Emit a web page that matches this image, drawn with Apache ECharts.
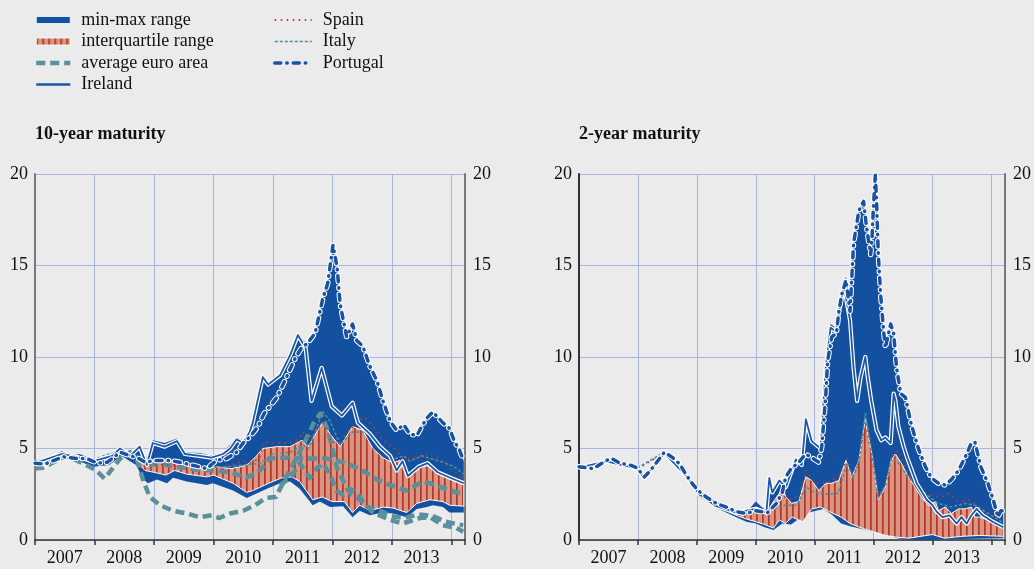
<!DOCTYPE html>
<html>
<head>
<meta charset="utf-8">
<script src="https://cdn.jsdelivr.net/npm/echarts@6/dist/echarts.min.js"></script>
<style>
html, body { margin: 0; padding: 0; background: #ebebeb; }
#main { width: 1034px; height: 569px; }
</style>
</head>
<body>
<div id="main"></div>
<script>
// ---- data: [year, yield %] ----
var years = ['2007', '2008', '2009', '2010', '2011', '2012', '2013'];

// 10-year maturity
var y10Max = [[2007.0,4.35],[2007.25,4.5],[2007.45,4.85],[2007.6,4.6],[2007.75,4.7],[2007.97,4.4],[2008.15,4.5],[2008.3,4.7],[2008.43,5.1],[2008.55,4.75],[2008.65,4.85],[2008.76,5.2],[2008.85,4.2],[2008.98,5.45],[2009.18,5.3],[2009.39,5.55],[2009.52,4.8],[2009.77,4.75],[2009.97,4.6],[2010.16,4.8],[2010.28,5.2],[2010.39,5.6],[2010.5,5.45],[2010.61,6.0],[2010.66,6.5],[2010.83,9.0],[2010.92,8.6],[2011.12,9.1],[2011.29,10.2],[2011.42,11.3],[2011.57,10.7],[2011.71,11.3],[2011.84,13.2],[2011.92,14.0],[2012.01,16.1],[2012.08,14.9],[2012.13,12.9],[2012.24,11.1],[2012.34,11.8],[2012.41,10.9],[2012.51,10.6],[2012.63,9.5],[2012.75,8.7],[2012.85,7.6],[2012.97,6.5],[2013.08,6.0],[2013.2,6.3],[2013.3,5.8],[2013.42,5.7],[2013.5,6.2],[2013.6,6.7],[2013.69,7.0],[2013.86,6.4],[2013.97,6.1],[2014.05,5.4],[2014.14,4.9],[2014.21,4.3]];
var y10Min = [[2007.0,4.0],[2007.45,4.55],[2007.75,4.3],[2007.97,4.0],[2008.25,4.1],[2008.45,4.6],[2008.7,4.1],[2008.82,3.3],[2008.9,3.1],[2009.05,3.3],[2009.22,3.1],[2009.32,3.4],[2009.55,3.2],[2009.89,3.0],[2009.99,3.1],[2010.33,2.7],[2010.56,2.3],[2010.66,2.45],[2010.9,2.8],[2011.12,3.1],[2011.29,3.2],[2011.45,2.8],[2011.67,1.9],[2011.79,2.1],[2011.96,1.8],[2012.18,1.85],[2012.34,1.25],[2012.46,1.6],[2012.63,1.35],[2012.85,1.5],[2013.02,1.45],[2013.25,1.25],[2013.42,1.7],[2013.59,1.8],[2013.69,1.9],[2013.86,1.8],[2013.97,1.5],[2014.21,1.5]];
var y10Q1 = [[2008.7,4.3],[2008.85,3.8],[2009.0,3.7],[2009.2,3.55],[2009.35,3.8],[2009.55,3.6],[2009.89,3.45],[2010.0,3.55],[2010.33,3.1],[2010.56,2.6],[2010.66,2.7],[2010.93,3.1],[2011.15,3.4],[2011.32,3.45],[2011.45,3.2],[2011.67,2.2],[2011.83,2.35],[2012.0,2.1],[2012.2,2.1],[2012.34,1.5],[2012.46,1.9],[2012.63,1.6],[2012.85,1.8],[2013.02,1.75],[2013.25,1.5],[2013.42,2.0],[2013.64,2.2],[2013.86,2.1],[2013.97,1.9],[2014.21,1.85]];
var y10Q3 = [[2008.7,4.35],[2008.85,4.3],[2009.0,4.4],[2009.25,4.4],[2009.4,4.2],[2009.6,4.0],[2009.85,3.9],[2010.05,4.0],[2010.3,3.9],[2010.45,4.0],[2010.56,4.1],[2010.7,4.5],[2010.83,5.0],[2011.07,5.1],[2011.29,5.1],[2011.49,5.45],[2011.59,5.1],[2011.84,6.45],[2011.96,5.8],[2012.13,5.1],[2012.34,6.2],[2012.51,6.0],[2012.68,5.0],[2012.85,4.5],[2013.02,4.2],[2013.13,4.35],[2013.25,3.5],[2013.42,3.95],[2013.59,4.05],[2013.81,3.7],[2013.97,3.4],[2014.21,3.1]];
var y10Avg = [[2008.75,4.6],[2008.9,4.1],[2009.1,4.15],[2009.4,4.0],[2009.7,3.85],[2010.0,3.8],[2010.3,3.7],[2010.55,3.4],[2010.75,3.7],[2010.95,4.45],[2011.25,4.5],[2011.55,4.45],[2011.9,4.45],[2012.25,4.2],[2012.5,3.8],[2012.75,3.3],[2012.97,3.0],[2013.25,2.7],[2013.52,3.2],[2013.74,3.0],[2013.97,2.7],[2014.21,2.5]];
var y10AvgLow = [[2007.0,3.9],[2007.13,3.95],[2007.37,4.35],[2007.53,4.6],[2007.7,4.35],[2007.92,4.0],[2008.03,3.8],[2008.17,3.35],[2008.3,3.9],[2008.43,4.45],[2008.6,4.8],[2008.72,4.35],[2008.82,3.25],[2008.93,2.35],[2009.1,1.9],[2009.32,1.6],[2009.55,1.45],[2009.77,1.25],[2009.97,1.35],[2010.1,1.2],[2010.28,1.45],[2010.5,1.6],[2010.7,1.9],[2010.88,2.3],[2011.05,2.35],[2011.2,3.3],[2011.4,4.5],[2011.55,5.45],[2011.7,6.5],[2011.8,6.9],[2011.9,6.2],[2011.98,5.3],[2012.07,4.0],[2012.2,3.1],[2012.3,2.55],[2012.42,2.3],[2012.54,2.0],[2012.68,1.5],[2012.97,1.1],[2013.18,0.9],[2013.47,1.2],[2013.64,1.25],[2013.86,0.8],[2014.09,0.65],[2014.2,0.45]];
var y10AvgMid = [[2011.12,3.0],[2011.29,3.4],[2011.45,4.2],[2011.62,3.4],[2011.73,3.9],[2011.84,4.2],[2011.96,3.6],[2012.07,2.7],[2012.18,2.45],[2012.29,2.8],[2012.41,2.6],[2012.58,1.8],[2012.8,1.6],[2013.0,1.3],[2013.2,1.2],[2013.45,1.4],[2013.7,1.3],[2013.9,1.0],[2014.2,0.8]];
var y10Ireland = [[2007.0,4.2],[2007.45,4.7],[2007.75,4.5],[2007.97,4.3],[2008.3,4.6],[2008.43,5.0],[2008.6,4.6],[2008.76,5.1],[2008.88,4.1],[2008.98,5.3],[2009.18,5.1],[2009.39,5.4],[2009.52,4.7],[2009.77,4.6],[2009.97,4.5],[2010.16,4.7],[2010.28,5.0],[2010.39,5.5],[2010.5,5.3],[2010.61,5.9],[2010.66,6.4],[2010.83,8.9],[2010.92,8.5],[2011.12,9.0],[2011.29,10.1],[2011.42,11.2],[2011.55,10.5],[2011.65,7.6],[2011.82,9.4],[2011.99,7.3],[2012.16,6.8],[2012.34,7.5],[2012.43,6.4],[2012.63,5.8],[2012.8,5.1],[2012.97,4.6],[2013.08,3.8],[2013.18,4.3],[2013.27,3.5],[2013.45,4.0],[2013.6,4.2],[2013.77,3.7],[2013.98,3.4],[2014.21,3.1]];
var y10Spain = [[2007.0,4.1],[2007.45,4.6],[2007.97,4.3],[2008.45,4.8],[2008.7,4.4],[2009.0,4.1],[2009.4,4.1],[2009.8,3.95],[2010.2,4.0],[2010.5,4.3],[2010.6,4.2],[2010.77,4.45],[2010.85,5.35],[2011.1,5.3],[2011.29,5.3],[2011.45,5.55],[2011.5,5.9],[2011.6,5.5],[2011.84,6.4],[2012.0,5.3],[2012.2,5.7],[2012.4,6.4],[2012.55,6.7],[2012.68,6.2],[2012.85,5.45],[2013.05,5.0],[2013.2,4.45],[2013.4,4.5],[2013.6,4.7],[2013.81,4.45],[2014.03,3.8],[2014.21,3.3]];
var y10Italy = [[2007.0,4.1],[2007.45,4.7],[2007.97,4.4],[2008.45,4.9],[2008.7,4.6],[2009.0,4.4],[2009.4,4.4],[2009.8,4.0],[2010.2,4.0],[2010.5,4.1],[2010.8,4.2],[2011.0,4.7],[2011.3,4.8],[2011.5,5.2],[2011.6,5.0],[2011.84,7.0],[2011.96,6.5],[2012.13,5.2],[2012.34,5.9],[2012.55,5.9],[2012.7,5.5],[2012.85,4.9],[2013.02,4.4],[2013.2,4.6],[2013.3,4.3],[2013.5,4.6],[2013.7,4.4],[2013.9,4.2],[2014.05,4.0],[2014.21,3.6]];
var y10Portugal = [[2007.0,4.2],[2007.17,4.15],[2007.47,4.55],[2007.7,4.45],[2007.87,4.45],[2008.05,4.2],[2008.22,4.25],[2008.43,4.8],[2008.6,4.6],[2008.72,4.5],[2008.85,4.25],[2009.02,4.35],[2009.27,4.35],[2009.43,4.25],[2009.89,3.9],[2010.05,4.35],[2010.22,4.45],[2010.39,4.8],[2010.5,5.3],[2010.63,5.7],[2010.75,6.2],[2010.85,6.9],[2011.07,7.8],[2011.2,8.7],[2011.37,9.9],[2011.5,10.6],[2011.57,10.7],[2011.71,11.3],[2011.84,13.2],[2011.92,14.0],[2012.01,16.1],[2012.08,14.9],[2012.13,12.9],[2012.24,11.1],[2012.34,11.8],[2012.41,10.9],[2012.51,10.6],[2012.63,9.5],[2012.75,8.7],[2012.85,7.6],[2012.97,6.5],[2013.08,6.0],[2013.2,6.3],[2013.3,5.8],[2013.42,5.7],[2013.5,6.2],[2013.6,6.7],[2013.69,7.0],[2013.86,6.4],[2013.97,6.1],[2014.05,5.4],[2014.14,4.9],[2014.21,4.3]];

// 2-year maturity
var y2Max = [[2008.7,4.15],[2008.82,3.6],[2008.93,3.1],[2009.04,2.7],[2009.16,2.4],[2009.33,2.05],[2009.5,1.85],[2009.67,1.6],[2009.84,1.5],[2010.0,2.1],[2010.1,1.8],[2010.18,1.6],[2010.23,3.45],[2010.28,2.7],[2010.4,3.3],[2010.51,3.2],[2010.68,4.45],[2010.78,4.2],[2010.85,6.7],[2010.95,5.45],[2011.1,5.1],[2011.19,9.8],[2011.27,11.8],[2011.36,11.6],[2011.44,13.1],[2011.53,14.4],[2011.58,13.4],[2011.66,16.2],[2011.75,18.0],[2011.83,18.5],[2011.88,17.1],[2011.95,15.6],[2011.97,16.3],[2012.0,18.4],[2012.03,20.0],[2012.05,18.5],[2012.08,15.6],[2012.12,13.4],[2012.17,11.4],[2012.2,10.5],[2012.29,11.8],[2012.34,11.3],[2012.39,9.4],[2012.46,8.0],[2012.54,7.8],[2012.64,6.3],[2012.76,5.0],[2012.88,4.0],[2012.98,3.4],[2013.1,3.1],[2013.22,3.0],[2013.32,3.3],[2013.44,3.8],[2013.55,4.5],[2013.66,5.3],[2013.72,5.35],[2013.82,4.0],[2013.94,3.1],[2014.03,2.2],[2014.11,1.25],[2014.16,1.6],[2014.2,1.6]];
var y2Min = [[2008.7,4.1],[2008.82,3.4],[2008.93,2.8],[2009.04,2.35],[2009.16,2.1],[2009.33,1.75],[2009.5,1.5],[2009.67,1.25],[2009.84,1.0],[2010.0,0.9],[2010.15,0.7],[2010.3,0.55],[2010.45,0.9],[2010.6,0.85],[2010.75,1.2],[2010.9,1.5],[2011.02,1.6],[2011.15,1.7],[2011.29,1.4],[2011.45,0.9],[2011.6,0.75],[2011.8,0.6],[2012.0,0.45],[2012.2,0.3],[2012.4,0.1],[2012.6,0.0],[2013.0,0.0],[2013.5,0.05],[2014.2,0.1]];
var y2Q1 = [[2008.7,4.15],[2008.82,3.45],[2008.93,2.9],[2009.04,2.45],[2009.16,2.2],[2009.33,1.85],[2009.5,1.6],[2009.67,1.35],[2009.84,1.15],[2010.0,1.0],[2010.15,0.85],[2010.3,0.65],[2010.4,1.1],[2010.5,0.9],[2010.62,1.25],[2010.8,1.0],[2010.95,1.7],[2011.1,1.8],[2011.25,1.55],[2011.45,1.25],[2011.6,0.9],[2011.8,0.65],[2012.0,0.45],[2012.2,0.25],[2012.4,0.15],[2012.6,0.1],[2013.0,0.3],[2013.2,0.1],[2013.5,0.2],[2013.8,0.25],[2014.2,0.2]];
var y2Q3 = [[2008.7,4.15],[2008.82,3.5],[2008.93,3.0],[2009.04,2.6],[2009.16,2.3],[2009.33,1.95],[2009.5,1.75],[2009.67,1.5],[2009.84,1.45],[2010.01,1.8],[2010.23,1.45],[2010.28,2.0],[2010.4,2.55],[2010.45,2.9],[2010.51,2.35],[2010.61,2.0],[2010.73,2.1],[2010.85,3.45],[2010.95,3.25],[2011.07,2.7],[2011.19,3.1],[2011.29,3.1],[2011.41,3.25],[2011.53,4.35],[2011.63,3.45],[2011.75,4.35],[2011.86,6.6],[2011.97,4.7],[2012.08,2.2],[2012.2,2.9],[2012.3,4.35],[2012.37,4.7],[2012.47,4.2],[2012.59,3.45],[2012.81,2.35],[2012.93,1.9],[2013.05,2.1],[2013.1,1.6],[2013.22,1.8],[2013.32,1.45],[2013.44,1.7],[2013.55,1.7],[2013.66,1.8],[2013.72,1.25],[2013.82,1.25],[2013.99,1.0],[2014.2,0.75]];
var y2Ireland = [[2007.0,3.95],[2007.47,4.3],[2007.98,3.9],[2008.11,3.4],[2008.45,4.75],[2008.82,3.5],[2009.04,2.5],[2009.33,1.85],[2009.67,1.5],[2010.0,1.7],[2010.18,1.5],[2010.23,3.4],[2010.28,2.6],[2010.4,3.25],[2010.51,2.9],[2010.68,4.4],[2010.78,4.1],[2010.85,6.6],[2010.95,5.4],[2011.1,5.0],[2011.19,9.5],[2011.27,11.6],[2011.36,11.4],[2011.44,13.0],[2011.5,13.8],[2011.55,12.9],[2011.6,12.0],[2011.66,9.4],[2011.72,7.6],[2011.78,8.9],[2011.86,10.0],[2011.9,8.9],[2011.96,7.6],[2012.05,6.0],[2012.13,5.45],[2012.2,5.6],[2012.29,5.3],[2012.34,8.0],[2012.37,7.6],[2012.42,6.2],[2012.51,5.1],[2012.57,4.5],[2012.73,3.1],[2012.9,2.2],[2013.0,1.9],[2013.07,1.55],[2013.17,1.25],[2013.29,1.35],[2013.41,0.9],[2013.49,1.25],[2013.58,0.9],[2013.66,1.35],[2013.75,1.7],[2013.85,1.35],[2014.02,1.0],[2014.2,0.7]];
var y2Spain = [[2007.0,3.95],[2007.5,4.3],[2008.0,3.9],[2008.45,4.75],[2008.82,3.5],[2009.04,2.55],[2009.5,1.7],[2009.84,1.4],[2010.1,1.6],[2010.3,1.9],[2010.45,2.4],[2010.6,2.2],[2010.75,2.5],[2010.85,3.8],[2011.0,3.1],[2011.2,3.1],[2011.4,3.45],[2011.55,4.4],[2011.65,3.5],[2011.75,4.3],[2011.86,6.5],[2011.97,4.6],[2012.08,2.3],[2012.2,3.0],[2012.32,4.7],[2012.42,4.9],[2012.54,4.0],[2012.76,2.7],[2012.98,2.45],[2013.15,2.35],[2013.27,2.55],[2013.44,2.1],[2013.61,2.2],[2013.78,1.8],[2013.94,1.5],[2014.2,1.1]];
var y2Italy = [[2007.0,3.95],[2007.5,4.35],[2008.0,3.95],[2008.45,4.8],[2008.82,3.55],[2009.04,2.6],[2009.5,1.75],[2009.84,1.45],[2010.1,1.55],[2010.3,1.7],[2010.5,1.9],[2010.7,1.9],[2010.85,2.9],[2011.0,2.6],[2011.2,2.5],[2011.4,2.55],[2011.55,4.2],[2011.65,3.4],[2011.75,4.3],[2011.86,6.9],[2011.97,4.8],[2012.08,2.3],[2012.2,3.0],[2012.3,4.45],[2012.4,4.3],[2012.54,3.65],[2012.8,2.7],[2013.1,2.0],[2013.32,1.8],[2013.55,2.0],[2013.72,1.9],[2013.94,1.45],[2014.2,0.95]];
var y2Portugal = [[2007.0,4.0],[2007.24,3.9],[2007.47,4.35],[2007.56,4.45],[2007.69,4.2],[2007.86,4.1],[2007.98,3.95],[2008.11,3.45],[2008.2,3.75],[2008.32,4.25],[2008.45,4.8],[2008.59,4.5],[2008.71,4.15],[2008.82,3.55],[2008.93,3.05],[2009.04,2.65],[2009.16,2.35],[2009.33,2.0],[2009.5,1.8],[2009.67,1.55],[2009.84,1.45],[2010.0,1.6],[2010.2,1.5],[2010.35,2.0],[2010.45,2.6],[2010.51,3.45],[2010.6,3.9],[2010.73,4.25],[2010.85,4.7],[2010.95,4.5],[2011.07,4.25],[2011.12,5.1],[2011.19,8.0],[2011.22,9.8],[2011.29,11.1],[2011.37,11.3],[2011.41,12.5],[2011.46,13.4],[2011.53,14.2],[2011.6,12.5],[2011.66,16.2],[2011.75,18.0],[2011.83,18.5],[2011.88,17.1],[2011.95,15.6],[2011.97,16.3],[2012.0,18.4],[2012.03,20.0],[2012.05,18.5],[2012.08,15.6],[2012.12,13.4],[2012.17,11.4],[2012.2,10.5],[2012.29,11.8],[2012.34,11.3],[2012.39,9.4],[2012.46,8.0],[2012.54,7.8],[2012.64,6.3],[2012.76,5.0],[2012.88,4.0],[2012.98,3.4],[2013.1,3.1],[2013.22,3.0],[2013.32,3.3],[2013.44,3.8],[2013.55,4.5],[2013.66,5.3],[2013.72,5.35],[2013.82,4.0],[2013.94,3.1],[2014.03,2.2],[2014.11,1.25],[2014.16,1.6],[2014.2,1.6]];

// ---- styling ----
var FONT = 'Liberation Serif';
var FS = 18;
var BLUE = '#1450a0';
var TEAL = '#5a8f9b';
var RED = '#c0392b';
var GRIDC = '#aab4e2';

var pat = document.createElement('canvas');
pat.width = 6; pat.height = 6;
var pctx = pat.getContext('2d');
pctx.fillStyle = '#d9957f';
pctx.fillRect(0, 0, 6, 6);
pctx.fillStyle = '#b0352c';
pctx.fillRect(0, 0, 1.7, 6);
var hatch = { image: pat, repeat: 'repeat' };

var avgStyle = { color: TEAL, width: 4.5, type: [9, 5] };
var spainStyle = { color: RED, width: 1.8, type: [1.5, 4.5] };
var italyStyle = { color: '#4e8d9c', width: 1.6, type: [3, 2] };
var irelandStyle = { color: '#1c57a8', width: 1.8, type: 'solid' };
var portugalStyle = { color: '#1a52a3', width: 3.5, type: [6, 6, 0.5, 6], cap: 'round' };

function band(name, xi, lower, upper, fill, stroke, z) {
    return {
        name: name, type: 'custom', xAxisIndex: xi, yAxisIndex: xi * 2,
        z: z, silent: true, clip: true,
        itemStyle: { color: name === 'min-max range' ? BLUE : '#d9957f' },
        data: [[2010, 0]],
        renderItem: function (params, api) {
            var pts = upper.map(function (p) { return api.coord(p); });
            lower.slice().reverse().forEach(function (p) { pts.push(api.coord(p)); });
            return {
                type: 'polygon',
                shape: { points: pts },
                style: { fill: fill, stroke: stroke || null, lineWidth: stroke ? 1 : 0 }
            };
        }
    };
}

function line(name, xi, data, style, z, halo) {
    var ls = { color: style.color, width: style.width, type: style.type, cap: style.cap || 'butt', join: 'round' };
    if (halo) {
        ls.color = '#ffffff';
        ls.width = style.width + halo;
    }
    return {
        name: name, type: 'line', xAxisIndex: xi, yAxisIndex: xi * 2,
        data: data, symbol: 'none', z: z, silent: true,
        lineStyle: ls, itemStyle: { color: ls.color }
    };
}

var series = [];
[
    { xi: 0, min: y10Min, max: y10Max, q1: y10Q1, q3: y10Q3, ie: y10Ireland, es: y10Spain, it: y10Italy, pt: y10Portugal,
      avg: [y10Avg, y10AvgLow, y10AvgMid] },
    { xi: 1, min: y2Min, max: y2Max, q1: y2Q1, q3: y2Q3, ie: y2Ireland, es: y2Spain, it: y2Italy, pt: y2Portugal,
      avg: [] }
].forEach(function (c) {
    series.push(band('min-max range', c.xi, c.min, c.max, BLUE, null, 1));
    series.push(band('interquartile range', c.xi, c.q1, c.q3, hatch, '#ffffff', 2));
    c.avg.forEach(function (d) {
        series.push(line('average euro area', c.xi, d, avgStyle, 3));
    });
    series.push(line('Spain', c.xi, c.es, spainStyle, 4));
    series.push(line('Italy', c.xi, c.it, italyStyle, 4));
    series.push(line('Ireland halo', c.xi, c.ie, irelandStyle, 5, 2.4));
    series.push(line('Ireland', c.xi, c.ie, irelandStyle, 6));
    series.push(line('Portugal halo', c.xi, c.pt, portugalStyle, 7, 2));
    series.push(line('Portugal', c.xi, c.pt, portugalStyle, 8));
});

function xAxis(gi) {
    return {
        type: 'value', gridIndex: gi, min: 2007, max: 2014.23, interval: 1,
        offset: 3,
        axisLine: { show: true, lineStyle: { color: '#333', width: 1.5 } },
        axisTick: { show: true, length: 5, lineStyle: { color: '#333', width: 1.5 } },
        axisLabel: {
            customValues: years.map(function (y) { return +y + 0.5; }),
            formatter: function (v) { return String(Math.floor(v)); },
            fontFamily: FONT, fontSize: FS, color: '#111', margin: 6
        },
        splitLine: { show: true, lineStyle: { color: GRIDC, width: 1 } }
    };
}

function yAxis(gi, pos, lineColor) {
    return {
        type: 'value', gridIndex: gi, position: pos, min: 0, max: 20, interval: 5,
        axisLine: { show: true, onZero: false, lineStyle: { color: lineColor, width: 1.8 } },
        axisTick: { show: false },
        axisLabel: { fontFamily: FONT, fontSize: FS, color: '#111', margin: pos === 'left' ? 7 : 8 },
        splitLine: { show: pos === 'left', lineStyle: { color: GRIDC, width: 1 } }
    };
}

// line legend entries: hide the marker dot, keep the series line style
function legendLine(name, style, w) {
    return {
        name: name,
        itemStyle: { color: 'rgba(0,0,0,0)', borderWidth: 0 },
        lineStyle: { color: style.color, width: w || style.width, type: style.type, cap: style.cap || 'butt' }
    };
}

var legendText = { fontFamily: FONT, fontSize: FS, color: '#111', lineHeight: 18, padding: [0, 0, 0, 6] };

var chart = echarts.init(document.getElementById('main'));
chart.setOption({
    backgroundColor: '#ebebeb',
    animation: false,
    title: [
        { text: '10-year maturity', left: 35, top: 125, padding: 0,
          textStyle: { fontFamily: FONT, fontSize: FS, fontWeight: 'bold', color: '#111' } },
        { text: '2-year maturity', left: 579, top: 125, padding: 0,
          textStyle: { fontFamily: FONT, fontSize: FS, fontWeight: 'bold', color: '#111' } }
    ],
    legend: [
        { left: 34, top: 11, orient: 'vertical', padding: 0, itemGap: 3.5, itemWidth: 34, itemHeight: 7,
          selectedMode: false, textStyle: legendText,
          data: [
              { name: 'min-max range', icon: 'rect', itemStyle: { color: BLUE, borderColor: '#fff', borderWidth: 0.8 } },
              { name: 'interquartile range', icon: 'rect', itemStyle: { color: hatch, borderColor: '#fff', borderWidth: 0.8 } },
              legendLine('average euro area', avgStyle),
              legendLine('Ireland', irelandStyle, 2.4)
          ] },
        { left: 273, top: 11, orient: 'vertical', padding: 0, itemGap: 3.5, itemWidth: 37, itemHeight: 7,
          selectedMode: false, textStyle: legendText,
          data: [
              legendLine('Spain', spainStyle),
              legendLine('Italy', italyStyle),
              legendLine('Portugal', portugalStyle)
          ] }
    ],
    grid: [
        { left: 35, right: 569, top: 174, bottom: 29 },
        { left: 579, right: 26, top: 174, bottom: 29 }
    ],
    xAxis: [xAxis(0), xAxis(1)],
    yAxis: [yAxis(0, 'left', '#707070'), yAxis(0, 'right', '#707070'), yAxis(1, 'left', '#222'), yAxis(1, 'right', '#707070')],
    series: series
});
</script>
</body>
</html>
